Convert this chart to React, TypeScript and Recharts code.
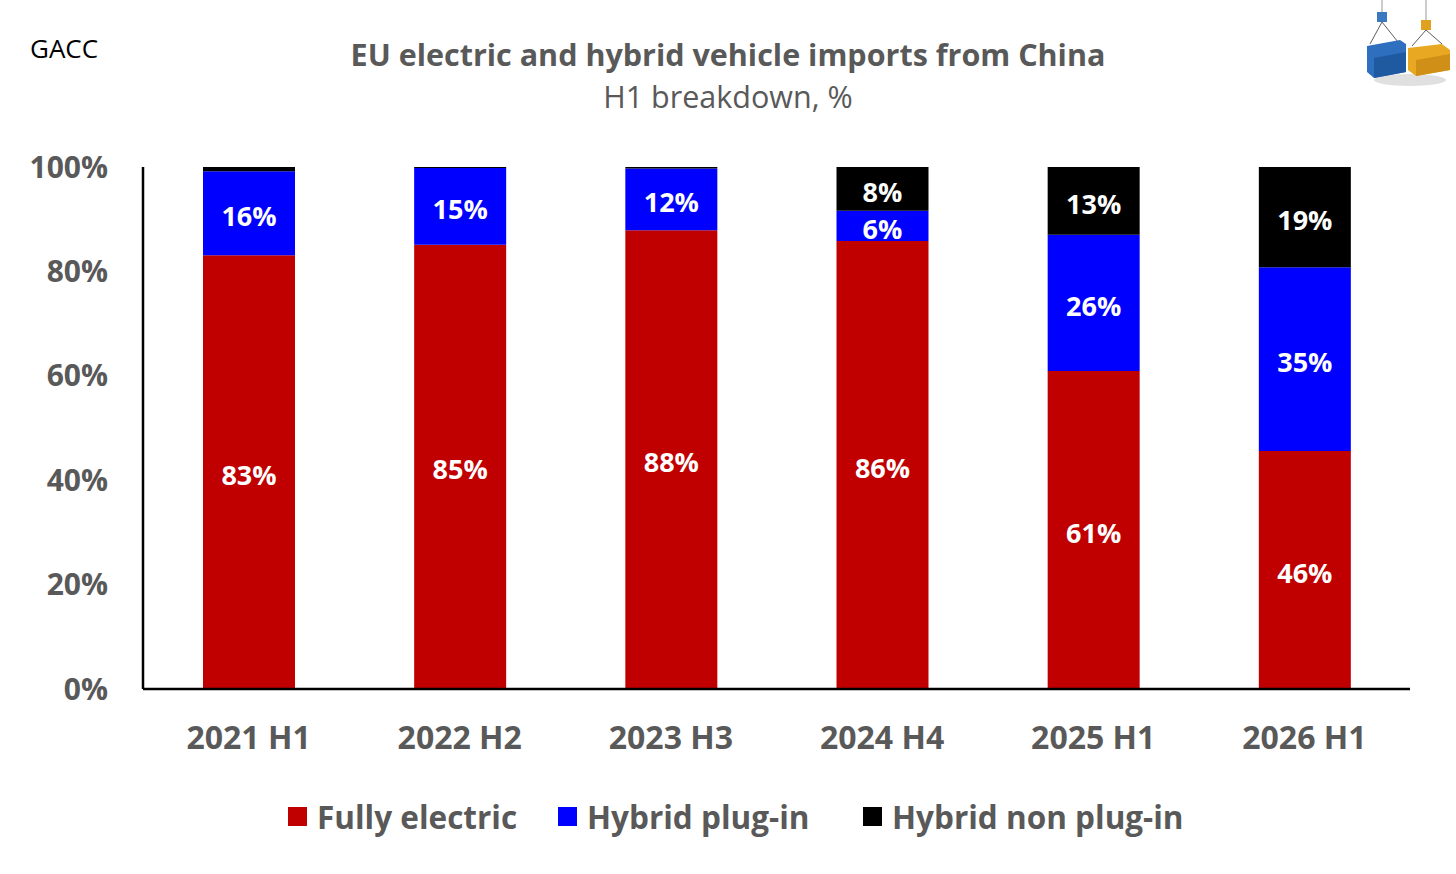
import React from "react";
import { BarChart, Bar, XAxis, YAxis, LabelList } from "recharts";

const CATEGORIES = ["2021 H1", "2022 H2", "2023 H3", "2024 H4", "2025 H1", "2026 H1"];
const FULLY_ELECTRIC = [83.1, 85.1, 87.9, 85.8, 60.9, 45.6];
const HYBRID_PLUG_IN = [16.1, 14.7, 11.8, 5.8, 26.1, 35.2];
const HYBRID_NON_PLUG_IN = [0.8, 0.2, 0.3, 8.4, 13.0, 19.2];
const Y_TICKS = [0, 20, 40, 60, 80, 100];

const SERIES = [
  { key: "fully", name: "Fully electric", color: "#C00000", values: FULLY_ELECTRIC },
  { key: "plugin", name: "Hybrid plug-in", color: "#0000FF", values: HYBRID_PLUG_IN },
  { key: "nonplugin", name: "Hybrid non plug-in", color: "#000000", values: HYBRID_NON_PLUG_IN },
];

const data = CATEGORIES.map((c, i) => {
  const row: Record<string, string | number> = { cat: c };
  SERIES.forEach((s) => (row[s.key] = s.values[i]));
  return row;
});

const FONT = "'Open Sans', 'Noto Sans', sans-serif";
const GREY = "#595959";
// legend item left edges (px), matching the original layout
const LEGEND_LEFT = [288, 558, 863];

function Logo() {
  return (
    <svg width={90} height={90} viewBox="0 0 90 90" style={{ position: "absolute", left: 1362, top: 0 }}>
      <ellipse cx={48} cy={80} rx={36} ry={6} fill="#e0e0e0" />
      <line x1={20} y1={0} x2={20} y2={20} stroke="#999" strokeWidth={1} />
      <line x1={64} y1={0} x2={64} y2={26} stroke="#999" strokeWidth={1} />
      <rect x={15} y={12} width={10} height={10} fill="#3a78c0" />
      <rect x={59} y={20} width={10} height={10} fill="#e0a020" />
      <line x1={20} y1={22} x2={8} y2={44} stroke="#333" strokeWidth={0.8} />
      <line x1={20} y1={22} x2={36} y2={42} stroke="#333" strokeWidth={0.8} />
      <line x1={64} y1={30} x2={50} y2={46} stroke="#333" strokeWidth={0.8} />
      <line x1={64} y1={30} x2={80} y2={44} stroke="#333" strokeWidth={0.8} />
      <polygon points="5,46 38,40 44,44 44,72 12,78 5,72" fill="#2e6fbf" />
      <polygon points="12,58 44,52 44,72 12,78" fill="#1f5aa0" />
      <polygon points="46,48 80,44 88,50 88,70 54,76 46,70" fill="#e8a822" />
      <polygon points="54,60 88,54 88,70 54,76" fill="#d09018" />
    </svg>
  );
}

export default function App() {
  return (
    <div
      style={{
        position: "fixed",
        left: 0,
        top: 0,
        width: 1456,
        height: 874,
        background: "#fff",
        fontFamily: FONT,
      }}
    >
      <div style={{ position: "absolute", left: 30, top: 30, fontSize: 26, color: "#000" }}>GACC</div>
      <div
        style={{
          position: "absolute",
          left: 0,
          width: 1456,
          top: 33,
          textAlign: "center",
          color: GREY,
        }}
      >
        <div style={{ fontSize: 30.5, fontWeight: 700, lineHeight: "42px" }}>
          EU electric and hybrid vehicle imports from China
        </div>
        <div style={{ fontSize: 30.5, fontWeight: 400, lineHeight: "42px" }}>H1 breakdown, %</div>
      </div>
      <Logo />

      <BarChart
        width={1456}
        height={874}
        data={data}
        margin={{ top: 167, right: 46, bottom: 125, left: 23 }}
        barSize={92}
      >
        <XAxis
          dataKey="cat"
          height={60}
          tickSize={0}
          tickMargin={37}
          axisLine={{ stroke: "#000", strokeWidth: 2.5 }}
          tick={{ fill: GREY, fontSize: 32, fontWeight: 700, fontFamily: FONT }}
        />
        <YAxis
          width={120}
          domain={[0, 100]}
          ticks={Y_TICKS}
          tickSize={0}
          tickMargin={35}
          axisLine={{ stroke: "#000", strokeWidth: 2.5 }}
          tickFormatter={(v) => `${v}%`}
          tick={{ fill: GREY, fontSize: 30, fontWeight: 700, fontFamily: FONT }}
        />
        {SERIES.map((s) => (
          <Bar key={s.key} dataKey={s.key} name={s.name} stackId="a" fill={s.color} isAnimationActive={false}>
            <LabelList
              dataKey={s.key}
              position="center"
              fill="#FFFFFF"
              fontSize={27}
              fontWeight={700}
              fontFamily={FONT}
              dy={3}
              formatter={(v: number) => (v >= 3 ? `${Math.round(v)}%` : "")}
            />
          </Bar>
        ))}
      </BarChart>

      {SERIES.map((s, i) => (
        <div
          key={s.key}
          style={{
            position: "absolute",
            left: LEGEND_LEFT[i],
            top: 795,
            display: "flex",
            alignItems: "center",
            fontSize: 31.5,
            fontWeight: 700,
            color: GREY,
            whiteSpace: "nowrap",
          }}
        >
          <div style={{ width: 19, height: 19, background: s.color, marginRight: 10 }} />
          <span>{s.name}</span>
        </div>
      ))}
    </div>
  );
}
